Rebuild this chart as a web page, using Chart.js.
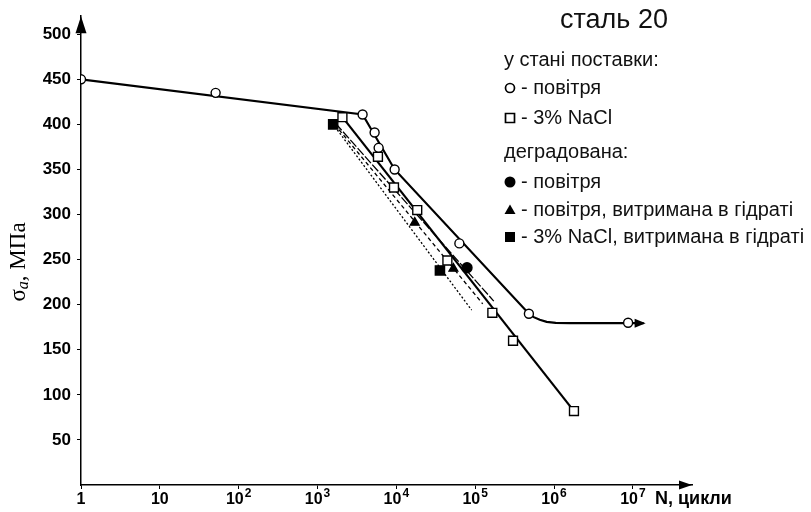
<!DOCTYPE html>
<html><head><meta charset="utf-8">
<script src="https://cdn.jsdelivr.net/npm/chart.js@4.4.1/dist/chart.umd.min.js"></script>
<style>html,body{margin:0;padding:0;background:#fff;}#wrap{width:811px;height:512px;}</style>
</head><body><div id="wrap"><canvas id="c" width="811" height="512"></canvas></div>
<script>
// ---- tick labels ----
const xTickValues = [1, 10, 100, 1e3, 1e4, 1e5, 1e6, 1e7];
const xTickBase = ['1', '10', '10', '10', '10', '10', '10', '10'];
const xTickExp = ['', '', '2', '3', '4', '5', '6', '7'];
const yTickValues = [50, 100, 150, 200, 250, 300, 350, 400, 450, 500];

// ---- measured points ----
// у стані поставки, повітря (open circles)
const airN = [1, 51, 3730, 5300, 5960, 9510, 63000, 480000, 8.7e6];
const airS = [450, 435, 411, 391, 374, 350, 268, 190, 180];
// у стані поставки, 3% NaCl (open squares)
const naclN = [2070, 5840, 9330, 18400, 44400, 165000, 302000, 1.79e6];
const naclS = [408, 364, 330, 305, 249, 191, 160, 82];
// деградована, повітря (filled circle)
const degAirN = [78700];
const degAirS = [241];
// деградована, повітря, витримана в гідраті (filled triangles)
const degHydAirN = [17100, 52900];
const degHydAirS = [291, 240];
// деградована, 3% NaCl, витримана в гідраті (filled squares)
const degHydNaclN = [1580, 35700];
const degHydNaclS = [400, 238];

// ---- fitted curves ----
const airFitN = [1, 3730, 9510, 480000, 553000, 659000, 807000, 1050000, 1580000, 13700000];
const airFitS = [450, 411, 350, 190, 186.2, 183.2, 181, 179.9, 179.5, 179.5];
const naclFitN = [2070, 1.79e6];
const naclFitS = [408, 82];
const degAirFitN = [1700, 172000];
const degAirFitS = [401, 204];
const degHydAirFitN = [1650, 124500];
const degHydAirFitS = [400, 201];
const degHydNaclFitN = [1550, 90200];
const degHydNaclFitS = [401, 194];

// ---- texts ----
const titleText = 'сталь 20';
const legendHead1 = 'у стані поставки:';
const legendHead2 = 'деградована:';
const legendItems = [
  {style: 'circleOpen', text: '- повітря'},
  {style: 'rectOpen', text: '- 3% NaCl'},
  {style: 'circleFill', text: '- повітря'},
  {style: 'triangle', text: '- повітря, витримана в гідраті'},
  {style: 'rectFill', text: '- 3% NaCl, витримана в гідраті'}
];
const xAxisTitle = 'N, цикли';

const pts = (xs, ys) => xs.map((x, i) => ({x: x, y: ys[i]}));

function markerDS(label, xs, ys, style, fill, r) {
  return {label, data: pts(xs, ys), showLine: false, pointStyle: style,
    pointRadius: r, pointHoverRadius: r, pointBackgroundColor: fill,
    pointBorderColor: '#000', pointBorderWidth: 1.4, order: 1};
}
function lineDS(label, xs, ys, width, dash) {
  return {label, data: pts(xs, ys), showLine: true, borderColor: '#000',
    borderWidth: width, borderDash: dash, pointRadius: 0, pointHoverRadius: 0,
    tension: 0, fill: false, order: 2};
}

const SANS = '"Liberation Sans", Arial, sans-serif';
const SERIF = '"Liberation Serif", "Times New Roman", serif';

function drawMarker(ctx, style, x, y) {
  ctx.save();
  ctx.lineWidth = 1.7; ctx.strokeStyle = '#000'; ctx.fillStyle = '#000';
  ctx.beginPath();
  if (style === 'circleOpen') { ctx.arc(x, y, 4.5, 0, Math.PI * 2); ctx.fillStyle = '#fff'; ctx.fill(); ctx.stroke(); }
  else if (style === 'circleFill') { ctx.arc(x, y, 5.5, 0, Math.PI * 2); ctx.fill(); }
  else if (style === 'rectOpen') { ctx.rect(x - 4.5, y - 4.5, 9, 9); ctx.fillStyle = '#fff'; ctx.fill(); ctx.stroke(); }
  else if (style === 'rectFill') { ctx.rect(x - 5, y - 5, 10, 10); ctx.fill(); }
  else if (style === 'triangle') { ctx.moveTo(x, y - 5.5); ctx.lineTo(x + 5.5, y + 4); ctx.lineTo(x - 5.5, y + 4); ctx.closePath(); ctx.fill(); }
  ctx.restore();
}

const overlay = {
  id: 'overlay',
  afterDraw(chart) {
    const ctx = chart.ctx, a = chart.chartArea, xs = chart.scales.x, ys = chart.scales.y;
    ctx.save();
    ctx.fillStyle = '#000';
    // y-axis arrow
    ctx.beginPath(); ctx.moveTo(a.left, a.top); ctx.lineTo(a.left - 5.5, a.top + 17); ctx.lineTo(a.left + 5.5, a.top + 17); ctx.closePath(); ctx.fill();
    // x-axis arrow
    ctx.beginPath(); ctx.moveTo(a.right, a.bottom); ctx.lineTo(a.right - 13, a.bottom - 4.5); ctx.lineTo(a.right - 13, a.bottom + 4.5); ctx.closePath(); ctx.fill();
    // arrow at end of the fatigue-limit line
    const ex = xs.getPixelForValue(airFitN[airFitN.length - 1]);
    const ey = ys.getPixelForValue(airFitS[airFitS.length - 1]);
    ctx.beginPath(); ctx.moveTo(ex + 2, ey); ctx.lineTo(ex - 9, ey - 4.5); ctx.lineTo(ex - 9, ey + 4.5); ctx.closePath(); ctx.fill();

    // x tick labels with superscript exponents
    ctx.fillStyle = '#000';
    ctx.textBaseline = 'alphabetic';
    xTickValues.forEach((v, i) => {
      const px = xs.getPixelForValue(v);
      ctx.font = 'bold 16px ' + SANS;
      const wb = ctx.measureText(xTickBase[i]).width;
      ctx.font = 'bold 12px ' + SANS;
      const we = xTickExp[i] ? ctx.measureText(xTickExp[i]).width + 1 : 0;
      let x0 = px - (wb + we) / 2;
      ctx.textAlign = 'left';
      ctx.font = 'bold 16px ' + SANS;
      ctx.fillText(xTickBase[i], x0, 504);
      if (xTickExp[i]) { ctx.font = 'bold 12px ' + SANS; ctx.fillText(xTickExp[i], x0 + wb + 1, 497); }
    });

    // x-axis title
    ctx.textBaseline = 'alphabetic'; ctx.textAlign = 'left';
    ctx.font = 'bold 18px ' + SANS;
    ctx.fillText(xAxisTitle, 655, 504);

    // y-axis title (rotated)
    ctx.save();
    ctx.translate(18, 262); ctx.rotate(-Math.PI / 2);
    ctx.textAlign = 'left'; ctx.textBaseline = 'alphabetic';
    const p1 = 'σ', p3 = ', МПа';
    ctx.font = '23px ' + SERIF; const w1 = ctx.measureText(p1).width;
    ctx.font = 'italic 16px ' + SERIF; const w2 = ctx.measureText('a').width;
    ctx.font = '23px ' + SERIF; const w3 = ctx.measureText(p3).width;
    let x0 = -(w1 + w2 + w3) / 2;
    ctx.font = '23px ' + SERIF; ctx.fillText(p1, x0, 7); x0 += w1;
    ctx.font = 'italic 16px ' + SERIF; ctx.fillText('a', x0, 10); x0 += w2;
    ctx.font = '23px ' + SERIF; ctx.fillText(p3, x0, 7);
    ctx.restore();

    // title and legend
    ctx.fillStyle = '#111';
    ctx.textAlign = 'center'; ctx.textBaseline = 'middle';
    ctx.font = '27px ' + SANS;
    ctx.fillText(titleText, 614, 21);
    ctx.textAlign = 'left';
    ctx.font = '20px ' + SANS;
    ctx.fillText(legendHead1, 504, 60);
    ctx.fillText(legendHead2, 504, 152);
    const rows = [88, 118, 182, 210, 237];
    legendItems.forEach((it, i) => {
      drawMarker(ctx, it.style, 510, rows[i]);
      ctx.fillStyle = '#111';
      ctx.fillText(it.text, 521, rows[i]);
    });
    ctx.restore();
  }
};

new Chart(document.getElementById('c'), {
  type: 'scatter',
  data: {
    datasets: [
      markerDS('у стані поставки, повітря', airN, airS, 'circle', '#fff', 4.5),
      markerDS('у стані поставки, 3% NaCl', naclN, naclS, 'rect', '#fff', 6.3),
      markerDS('деградована, повітря', degAirN, degAirS, 'circle', '#000', 5),
      markerDS('деградована, повітря, витримана в гідраті', degHydAirN, degHydAirS, 'triangle', '#000', 5),
      markerDS('деградована, 3% NaCl, витримана в гідраті', degHydNaclN, degHydNaclS, 'rect', '#000', 6.5),
      lineDS('fit air', airFitN, airFitS, 2.2, []),
      lineDS('fit NaCl', naclFitN, naclFitS, 2.2, []),
      lineDS('fit deg air', degAirFitN, degAirFitS, 1.3, [9, 2]),
      lineDS('fit deg hyd air', degHydAirFitN, degHydAirFitS, 1.3, [4, 3]),
      lineDS('fit deg hyd NaCl', degHydNaclFitN, degHydNaclFitS, 1.3, [2, 2])
    ]
  },
  options: {
    responsive: false, animation: false, devicePixelRatio: 1,
    layout: {padding: {left: 0, right: 119, top: 14, bottom: 0}},
    plugins: {legend: {display: false}, tooltip: {enabled: false}},
    scales: {
      x: {
        type: 'logarithmic', min: 1, max: Math.pow(10, 7.75),
        grid: {drawOnChartArea: false, drawTicks: true, tickLength: 4, color: '#000'},
        border: {color: '#000', width: 1.5},
        afterBuildTicks: s => { s.ticks = xTickValues.map(v => ({value: v})); },
        afterFit: s => { s.height = 27; },
        ticks: {color: '#000', padding: 2, maxRotation: 0, autoSkip: false, callback: () => ''}
      },
      y: {
        min: 0, max: 520,
        grid: {drawOnChartArea: false, drawTicks: true, tickLength: 4, color: '#000'},
        border: {color: '#000', width: 1.5},
        afterBuildTicks: s => { s.ticks = yTickValues.map(v => ({value: v})); },
        afterFit: s => { s.width = 81; },
        ticks: {color: '#000', padding: 6, font: {family: SANS, size: 17, weight: 'bold'}}
      }
    }
  },
  plugins: [overlay]
});
</script>
</body></html>
